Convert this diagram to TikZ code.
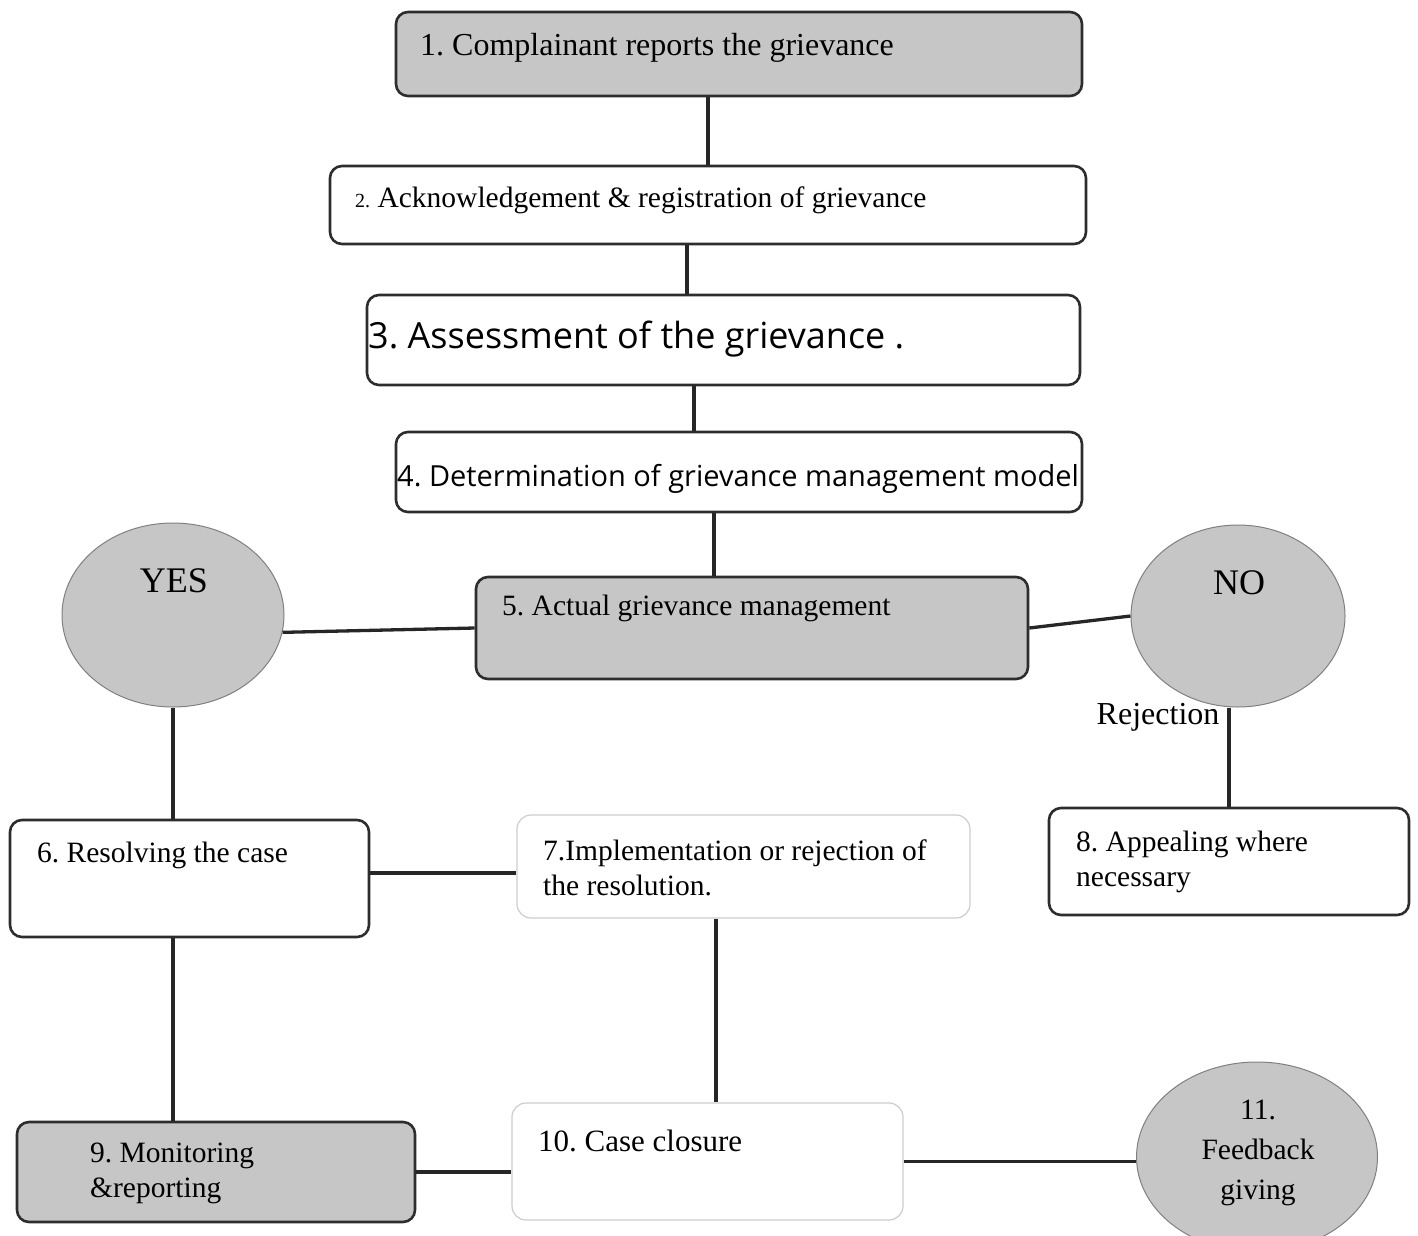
\documentclass[tikz,border=0pt]{standalone}
\usepackage{fontspec}
\setmainfont{Liberation Serif}
\newfontfamily\handfont{Open Sans}
\usetikzlibrary{shapes.geometric}
\frenchspacing

\definecolor{boxgray}{RGB}{198,198,198}
\definecolor{edgegray}{RGB}{45,45,45}
\definecolor{palegray}{RGB}{205,205,205}

\tikzset{
  box/.style={draw=edgegray, line width=2.6pt, rounded corners=12pt, fill=white, inner sep=0pt},
  shaded/.style={box, fill=boxgray},
  pale/.style={draw=palegray, line width=1.2pt, rounded corners=14pt, fill=white, inner sep=0pt},
  oval/.style={ellipse, draw=gray, line width=1pt, fill=boxgray, inner sep=0pt},
  txt/.style={anchor=west, inner sep=0pt, align=left, font=\fontsize{29.5}{35}\selectfont},
  hand/.style={txt, font=\handfont\fontsize{29}{34}\selectfont},
  link/.style={line width=3.3pt, draw=black!85}
}

\begin{document}
\begin{tikzpicture}[x=1pt,y=1pt,yscale=-1]
\useasboundingbox (0,0) rectangle (1418,1235);

% boxes and ovals
\node[shaded, minimum width=686pt, minimum height=84pt] (b1) at (739,54) {};
\node[box, minimum width=756pt, minimum height=78pt] (b2) at (708,205) {};
\node[box, minimum width=713pt, minimum height=90pt] (b3) at (723.5,340) {};
\node[box, minimum width=686pt, minimum height=80pt] (b4) at (739,472) {};
\node[shaded, minimum width=552pt, minimum height=102pt] (b5) at (752,628) {};
\node[oval, minimum width=222pt, minimum height=184pt] (yes) at (173,615) {};
\node[oval, minimum width=214pt, minimum height=182pt] (no) at (1238,616) {};
\node[box, minimum width=359pt, minimum height=117pt] (b6) at (189.5,878.5) {};
\node[pale, minimum width=453pt, minimum height=103pt] (b7) at (743.5,866.5) {};
\node[box, minimum width=360pt, minimum height=107pt] (b8) at (1229,861.5) {};
\node[shaded, minimum width=398pt, minimum height=100pt] (b9) at (216,1172) {};
\node[pale, minimum width=391pt, minimum height=117pt] (b10) at (707.5,1161.5) {};
\node[oval, minimum width=241pt, minimum height=190pt] (b11) at (1257,1157) {};

% texts
\node[txt, font=\fontsize{32}{38}\selectfont] (t1) at (420,48) {1. Complainant reports the grievance};
\node[txt] (t2) at (355,200) {{\fontsize{20}{24}\selectfont 2.} Acknowledgement \& registration of grievance};
\node[hand, font=\handfont\fontsize{36}{40}\selectfont] (t3) at (368,339) {3. Assessment of the grievance .};
\node[hand] (t4) at (397,479) {4. Determination of grievance management model};
\node[txt] (t5) at (502,608) {5. Actual grievance management};
\node[txt, anchor=center, font=\fontsize{36}{40}\selectfont] (tyes) at (174,581) {YES};
\node[txt, anchor=center, font=\fontsize{36}{40}\selectfont] (tno) at (1239,583) {NO};
\node[txt] (t6) at (37,855) {6. Resolving the case};
\node[txt] (t7) at (543,868) {7.Implementation or rejection of\\the resolution.};
\node[txt] (t8) at (1076,862) {8. Appealing where\\necessary};
\node[txt] (t9) at (90,1173) {9. Monitoring\\\&reporting};
\node[txt, font=\fontsize{31}{36}\selectfont] (t10) at (538,1141) {10. Case closure};
\node[txt, anchor=center, align=center, font=\fontsize{29.5}{40}\selectfont] (t11) at (1258,1153) {11.\\Feedback\\giving};

% connectors
\draw[link] (b1.south -| b2.north) -- (b2.north);
\draw[link] ([xshift=-21pt]b2.south) -- ([xshift=-21pt]b2.south |- b3.north);
\draw[link] ([xshift=-29.5pt]b3.south) -- ([xshift=-29.5pt]b3.south |- b4.north);
\draw[link] ([xshift=-25pt]b4.south) -- ([xshift=-25pt]b4.south |- b5.north);
\draw[link] (yes.-9) -- (b5.west);
\draw[link] (b5.east) -- (no.west);
\draw[link] (no.south -| b8.north) -- node[pos=0.1, left, inner sep=8pt, font=\fontsize{32}{38}\selectfont] {Rejection} (b8.north);
\draw[link] (yes.south) -- (yes.south |- b6.north);
\draw[link] ([yshift=-5.5pt]b6.east) -- ([yshift=-5.5pt]b6.east -| b7.west);
\draw[link] (yes.south |- b6.south) -- (yes.south |- b9.north);
\draw[link] ([xshift=-27.5pt]b7.south) -- ([xshift=-27.5pt]b7.south |- b10.north);
\draw[link] (b9.east) -- (b9.east -| b10.west);
\draw[link] (b10.east) -- (b10.east -| b11.west);
\end{tikzpicture}
\end{document}
